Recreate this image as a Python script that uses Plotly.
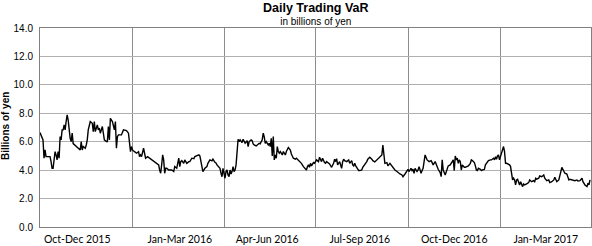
import pandas as pd
import plotly.graph_objects as go

# ---- data: days since 2015-10-01 and daily trading VaR (billions of yen) ----
start_date = "2015-10-01"

q4_2015_days = [0, 2, 3, 4, 5, 6, 8, 10, 11, 12, 13, 14, 15, 16, 17, 18, 19, 20, 21, 22,
                23, 24, 25, 26, 27, 28, 29, 30, 31, 32, 33, 35, 37, 38, 40, 41, 42, 43, 45, 46,
                47, 48, 49, 50, 52, 53, 54, 55, 57, 58, 59, 60, 62, 63, 64, 66, 67, 68, 69, 70,
                71, 72, 74, 75, 76, 77, 78, 80, 81, 83, 85, 86, 88, 89, 90, 91]
q4_2015_var = [6.64, 6.36, 6.13, 4.84, 5.42, 4.95, 4.95, 4.95, 4.60, 4.13, 4.13, 4.72, 5.30, 5.07,
               4.72, 5.30, 4.84, 6.36, 6.13, 6.83, 6.83, 7.18, 6.83, 7.42, 7.89, 7.53, 6.83, 6.24,
               6.01, 6.60, 5.87, 5.75, 5.66, 5.54, 5.42, 6.01, 5.42, 5.66, 5.54, 5.77, 6.13, 6.83,
               7.07, 7.42, 7.30, 6.71, 7.42, 6.71, 7.18, 6.83, 6.95, 6.60, 7.07, 6.60, 6.13, 6.01,
               6.01, 7.07, 6.13, 7.65, 7.53, 7.42, 6.83, 7.42, 5.54, 6.36, 6.48, 6.48, 6.48, 6.83,
               6.83, 6.78, 6.60, 5.87, 5.30, 5.66]

q1_2016_days = [92, 94, 96, 98, 99, 100, 101, 103, 104, 105, 107, 109, 111, 113, 114, 116, 118,
                119, 120, 121, 122, 123, 124, 125, 126, 128, 129, 131, 133, 134, 136, 137, 138,
                139, 140, 141, 143, 144, 146, 148, 149, 151, 153, 154, 156, 157, 158, 159, 161,
                162, 164, 166, 167, 169, 171, 172, 174, 175, 176, 178, 179, 180, 181, 182]
q1_2016_var = [5.42, 5.30, 5.19, 5.30, 4.95, 5.07, 4.95, 5.54, 5.07, 4.84, 4.95, 4.84, 4.77, 4.67,
               4.60, 4.48, 4.37, 4.01, 3.78, 4.37, 5.07, 4.72, 3.78, 4.13, 4.13, 4.01, 4.01, 4.01,
               3.90, 4.25, 4.13, 4.48, 4.84, 4.25, 4.60, 4.67, 4.48, 4.72, 4.48, 4.60, 4.60, 4.84,
               4.80, 4.95, 5.03, 5.07, 5.07, 5.00, 4.13, 3.90, 4.13, 4.25, 4.48, 4.72, 4.65, 4.78,
               4.55, 4.50, 4.37, 4.25, 4.13, 3.78, 3.54, 4.13]

q2_2016_days = [183, 184, 185, 186, 187, 188, 189, 190, 191, 192, 193, 194, 195, 197, 198, 199,
                201, 202, 204, 206, 207, 208, 210, 211, 212, 213, 215, 216, 218, 219, 220, 221,
                222, 223, 224, 225, 227, 228, 229, 230, 231, 232, 233, 234, 235, 236, 237, 238,
                239, 241, 242, 244, 245, 247, 249, 250, 252, 254, 255, 257, 259, 260, 262, 264,
                265, 266, 267, 268, 269, 270, 272, 273]
q2_2016_var = [3.78, 3.43, 3.90, 4.01, 3.66, 3.54, 4.01, 3.73, 3.90, 4.25, 3.90, 4.01, 4.37, 6.17,
               6.01, 6.13, 5.94, 6.17, 5.89, 6.08, 5.66, 6.01, 6.13, 6.08, 5.85, 5.77, 5.70, 5.77,
               5.89, 5.85, 6.01, 6.13, 6.60, 6.36, 5.89, 6.01, 5.77, 5.89, 5.66, 6.24, 5.00, 6.36,
               4.72, 5.07, 4.84, 5.66, 5.31, 5.19, 5.31, 5.07, 5.31, 5.07, 5.31, 5.59, 5.42, 5.14,
               4.84, 4.77, 4.84, 4.72, 4.60, 4.48, 4.25, 4.06, 4.01, 4.25, 4.37, 4.20, 4.48, 4.30,
               4.53, 4.48]

q3_2016_days = [275, 277, 278, 280, 281, 283, 284, 285, 287, 288, 290, 292, 293, 294, 295, 296,
                298, 299, 300, 301, 302, 303, 305, 307, 308, 310, 311, 312, 313, 314, 316, 317,
                318, 320, 321, 322, 323, 325, 326, 328, 330, 331, 333, 335, 336, 338, 340, 341,
                342, 343, 345, 346, 348, 350, 351, 353, 355, 356, 358, 360, 361, 363, 365]
q3_2016_var = [4.72, 4.60, 4.91, 4.60, 4.84, 4.53, 4.48, 4.60, 4.48, 4.44, 4.20, 4.48, 4.77, 4.60,
               4.81, 4.37, 4.60, 4.25, 4.13, 4.60, 4.77, 4.67, 4.60, 4.72, 4.48, 4.67, 4.37, 4.30,
               4.48, 4.30, 4.01, 3.97, 3.97, 4.01, 4.20, 4.30, 4.37, 4.60, 4.77, 4.91, 4.77, 4.67,
               4.58, 4.72, 4.81, 4.95, 5.07, 5.77, 4.84, 4.48, 4.53, 4.30, 4.48, 4.30, 4.13, 4.01,
               3.90, 3.83, 3.73, 3.66, 3.54, 3.73, 3.90]

q4_2016_days = [366, 367, 369, 370, 371, 372, 373, 375, 376, 377, 379, 380, 381, 383, 384, 385,
                387, 389, 390, 391, 393, 394, 396, 398, 399, 400, 401, 403, 404, 405, 406, 408,
                409, 411, 412, 413, 414, 415, 416, 417, 418, 419, 420, 422, 423, 424, 426, 428,
                429, 430, 431, 432, 433, 434, 435, 436, 438, 439, 440, 442, 443, 444, 445, 446,
                448, 449, 451, 452, 453, 454, 455, 456, 457]
q4_2016_var = [4.06, 3.90, 4.13, 3.97, 4.06, 3.78, 4.13, 3.90, 4.01, 4.25, 3.78, 3.97, 4.13, 5.07,
               4.84, 4.72, 4.60, 4.67, 4.53, 4.37, 4.60, 4.37, 4.06, 3.83, 3.54, 4.72, 4.01, 3.66,
               3.90, 4.20, 4.30, 4.37, 4.48, 4.72, 3.97, 5.00, 4.72, 4.84, 4.48, 4.72, 4.60, 4.01,
               4.37, 4.20, 4.20, 4.25, 4.30, 4.48, 4.72, 4.67, 4.60, 4.53, 4.30, 4.01, 3.97, 4.13,
               4.06, 3.97, 4.01, 4.06, 4.37, 4.48, 4.60, 4.67, 4.72, 4.72, 4.84, 4.72, 4.95, 4.77,
               5.00, 5.07, 4.72]

q1_2017_days = [458, 459, 460, 461, 462, 463, 464, 465, 467, 468, 469, 470, 471, 472, 473, 474,
                475, 476, 477, 478, 480, 481, 482, 484, 486, 487, 489, 491, 492, 493, 494, 496,
                497, 499, 501, 502, 504, 506, 507, 509, 511, 512, 514, 516, 517, 518, 519, 520,
                521, 522, 524, 525, 526, 527, 529, 530, 532, 534, 535, 537, 539, 540, 541, 542,
                544, 545, 546, 547]
q1_2017_var = [4.95, 5.07, 5.42, 5.66, 5.31, 4.48, 4.48, 4.44, 4.37, 4.25, 3.54, 3.31, 3.43, 3.31,
               2.96, 3.31, 3.36, 3.08, 2.96, 3.19, 2.84, 3.03, 2.96, 3.03, 3.12, 3.31, 3.19, 3.26,
               3.19, 3.43, 3.36, 3.43, 3.59, 3.54, 3.66, 3.43, 3.26, 3.31, 3.12, 3.19, 3.31, 3.50,
               3.19, 3.31, 3.54, 3.90, 4.20, 4.06, 3.90, 3.78, 3.73, 3.50, 3.31, 3.36, 3.31, 3.31,
               3.26, 3.31, 3.24, 3.26, 3.43, 3.19, 3.08, 2.96, 2.84, 3.08, 2.96, 3.31]

quarter_starts = ["2015-10-01", "2016-01-01", "2016-04-01", "2016-07-01",
                  "2016-10-01", "2017-01-01", "2017-04-01"]
quarter_labels = ["Oct-Dec 2015", "Jan-Mar 2016", "Apr-Jun 2016",
                  "Jul-Sep 2016", "Oct-Dec 2016", "Jan-Mar 2017"]
label_dates = ["2015-11-07", "2016-02-17", "2016-05-14",
               "2016-08-14", "2016-11-16", "2017-02-15"]
y_ticks = [0, 2, 4, 6, 8, 10, 12, 14]

title_text = "Daily Trading VaR"
subtitle_text = "in billions of yen"
y_title = "Billions of yen"

# ---- build ----
days = (q4_2015_days + q1_2016_days + q2_2016_days + q3_2016_days
        + q4_2016_days + q1_2017_days)
var = (q4_2015_var + q1_2016_var + q2_2016_var + q3_2016_var
       + q4_2016_var + q1_2017_var)
dates = pd.Timestamp(start_date) + pd.to_timedelta(days, unit="D")

fig = go.Figure(go.Scatter(
    x=dates, y=var, mode="lines",
    line=dict(color="black", width=1.4),
    hoverinfo="skip",
))

fig.update_layout(
    width=592, height=246,
    margin=dict(l=40, r=1, t=28, b=19),
    paper_bgcolor="white", plot_bgcolor="white",
    showlegend=False,
    font=dict(family="Liberation Sans, Arial", color="black"),
)

fig.update_xaxes(
    type="date",
    range=[quarter_starts[0], quarter_starts[-1]],
    tickmode="array", tickvals=label_dates, ticktext=quarter_labels,
    showgrid=False, ticks="", zeroline=False, ticklabelstandoff=2,
    tickfont=dict(family="Lato", size=10.5, color="black"),
    showline=True, linecolor="#808080", linewidth=1, mirror=True,
    minor=dict(tickmode="array", tickvals=quarter_starts, showgrid=True,
               gridcolor="#8c8c8c", gridwidth=1, ticks=""),
)

fig.update_yaxes(
    range=[0, 14], tickmode="array", tickvals=y_ticks, tickformat=".1f",
    showgrid=True, gridcolor="#b0b0b0", gridwidth=1,
    showline=True, linecolor="#808080", linewidth=1, mirror=True,
    ticks="", zeroline=False, ticklabelstandoff=4,
    tickfont=dict(family="Liberation Sans, Arial", size=10, color="black"),
)

# title + subtitle as one text block
fig.add_annotation(
    text=("<span style='font-size:12.5px;font-weight:bold'>" + title_text + "</span><br>"
          "<span style='font-size:10px'>" + subtitle_text + "</span>"),
    xref="paper", yref="paper", x=0.5, y=1.1407, xanchor="center", yanchor="top",
    showarrow=False, borderpad=0,
    font=dict(family="Liberation Sans, Arial", size=10, color="black"))
fig.add_annotation(text="<b>" + y_title + "</b>", xref="paper", yref="paper",
                   x=-0.0626, y=0.505, xanchor="center", yanchor="middle", showarrow=False,
                   textangle=-90,
                   font=dict(family="Liberation Sans, Arial", size=10, color="black"))

fig.write_html("out.html")
